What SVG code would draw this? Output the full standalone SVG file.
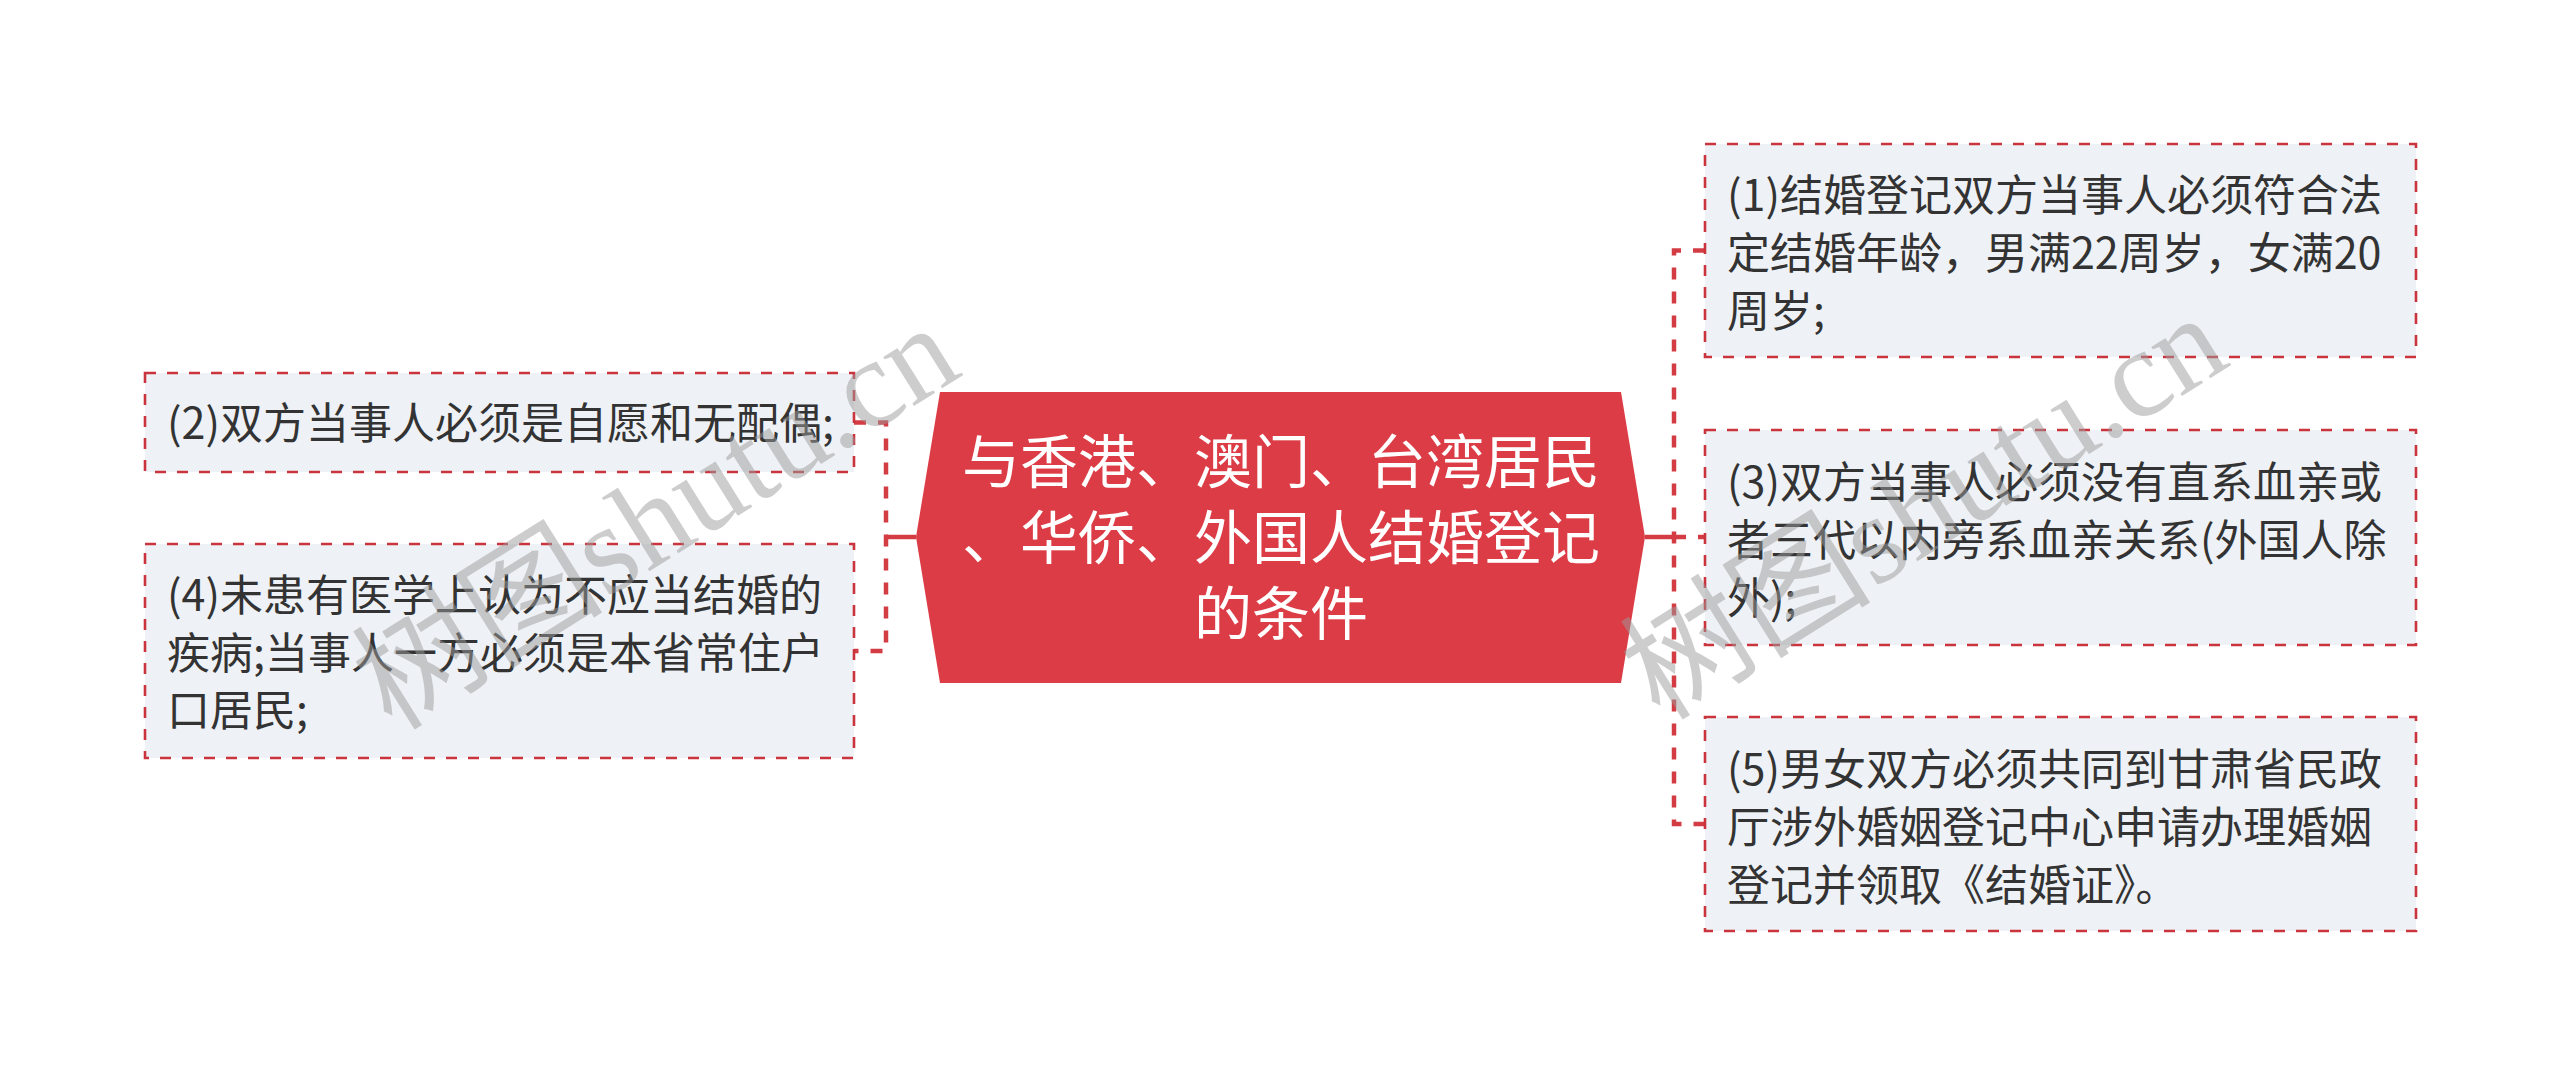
<svg xmlns="http://www.w3.org/2000/svg" width="2560" height="1075" viewBox="0 0 2560 1075">
<style>
.leaf rect{fill:#eef1f5;stroke:#c9343d;stroke-width:2.6;stroke-dasharray:11 11}
.leaf text{font-family:"Noto Sans CJK SC","Noto Sans",sans-serif;font-size:43px;fill:#333333}
.root text{font-family:"Noto Sans CJK SC","Noto Sans",sans-serif;font-size:58px;fill:#ffffff;text-anchor:middle}
.solid{fill:none;stroke:#d43c44;stroke-width:4.5}
.dash{fill:none;stroke:#d43c44;stroke-width:4.5;stroke-dasharray:12 12}
.wm{font-family:"Liberation Serif","Noto Sans CJK SC",serif;font-size:126px;fill:#9c9c9c;fill-opacity:0.5}
</style>
<rect width="2560" height="1075" fill="#ffffff"/>
<g id="connectors">
<path class="solid" d="M916 537H886"/>
<path class="dash" d="M854 422.5H886V651H854"/>
<path class="solid" d="M1645 537H1674"/>
<path class="dash" d="M1705 250.5H1674V824H1705"/>
<path class="dash" d="M1674 537H1705"/>
</g>
<g id="root" class="root">
<polygon points="940,392 1621,392 1645,537 1621,683 940,683 916,537" fill="#dc3c45"/>
<text x="1281" y="483">与香港、澳门、台湾居民</text>
<text x="1281" y="559">、华侨、外国人结婚登记</text>
<text x="1281" y="635">的条件</text>
</g>
<g id="node2" class="leaf">
<rect x="145" y="373" width="709" height="99"/>
<text x="167" y="439">(2)双方当事人必须是自愿和无配偶;</text>
</g>
<g id="node4" class="leaf">
<rect x="145" y="544" width="709" height="214"/>
<text x="167" y="611">(4)未患有医学上认为不应当结婚的</text>
<text x="167" y="669">疾病;当事人一方必须是本省常住户</text>
<text x="167" y="726">口居民;</text>
</g>
<g id="node1" class="leaf">
<rect x="1705" y="144" width="711" height="213"/>
<text x="1727" y="211">(1)结婚登记双方当事人必须符合法</text>
<text x="1727" y="269">定结婚年龄，男满22周岁，女满20</text>
<text x="1727" y="327">周岁;</text>
</g>
<g id="node3" class="leaf">
<rect x="1705" y="430" width="711" height="215"/>
<text x="1727" y="498">(3)双方当事人必须没有直系血亲或</text>
<text x="1727" y="556">者三代以内旁系血亲关系(外国人除</text>
<text x="1727" y="614">外);</text>
</g>
<g id="node5" class="leaf">
<rect x="1705" y="717" width="711" height="214"/>
<text x="1727" y="785">(5)男女双方必须共同到甘肃省民政</text>
<text x="1727" y="843">厅涉外婚姻登记中心申请办理婚姻</text>
<text x="1727" y="901">登记并领取《结婚证》。</text>
</g>
<g id="watermarks">
<text class="wm" transform="translate(392 732) rotate(-32)">树图shutu.cn</text>
<text class="wm" transform="translate(1660 722) rotate(-32)">树图shutu.cn</text>
</g>
</svg>
